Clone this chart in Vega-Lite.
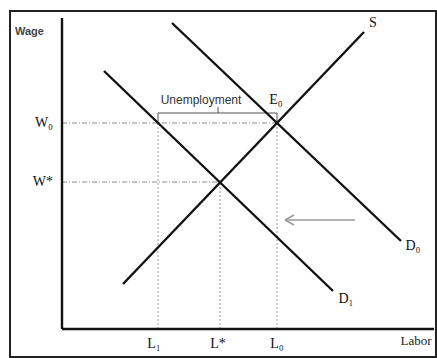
{
  "$schema": "https://vega.github.io/schema/vega-lite/v6.json",
  "width": 437,
  "height": 358,
  "padding": 0,
  "autosize": {"type": "none"},
  "background": "white",
  "config": {"view": {"stroke": null}},
  "datasets": {
    "segments": [
      {"part": "border", "style": "border", "x": -52, "y": -28, "x2": 374, "y2": 318},
      {"part": "y axis", "style": "solid", "x": 0, "y": 0, "x2": 0, "y2": 311},
      {"part": "x axis", "style": "solid", "x": 0, "y": 0, "x2": 372, "y2": 0},
      {"part": "S", "style": "solid", "x": 61, "y": 45, "x2": 302, "y2": 297},
      {"part": "D0", "style": "solid", "x": 110, "y": 306, "x2": 339, "y2": 88},
      {"part": "D1", "style": "solid", "x": 42, "y": 258, "x2": 271, "y2": 38},
      {"part": "bracket left", "style": "thin", "x": 96, "y": 206, "x2": 96, "y2": 216},
      {"part": "bracket top", "style": "thin", "x": 96, "y": 216, "x2": 215, "y2": 216},
      {"part": "bracket right", "style": "thin", "x": 215, "y": 216, "x2": 215, "y2": 206},
      {"part": "bracket tick", "style": "thin", "x": 156, "y": 216, "x2": 156, "y2": 222},
      {"part": "W0 guide", "style": "dashdot", "x": 0, "y": 206, "x2": 215, "y2": 206},
      {"part": "W* guide", "style": "dashdot", "x": 0, "y": 147, "x2": 158, "y2": 147},
      {"part": "L1 guide", "style": "dotted", "x": 96, "y": 0, "x2": 96, "y2": 206},
      {"part": "L* guide", "style": "dotted", "x": 158, "y": 0, "x2": 158, "y2": 147},
      {"part": "L0 guide", "style": "dotted", "x": 215, "y": 0, "x2": 215, "y2": 206},
      {"part": "arrow shaft", "style": "arrow", "x": 293, "y": 109, "x2": 223, "y2": 109},
      {"part": "arrow wing up", "style": "arrow", "x": 223, "y": 109, "x2": 232, "y2": 114},
      {"part": "arrow wing down", "style": "arrow", "x": 223, "y": 109, "x2": 232, "y2": 104}
    ],
    "labels": [
      {"text": "Wage", "font": "sans", "align": "left", "x": -47, "y": 297},
      {"text": "Unemployment", "font": "sans", "align": "center", "x": 139, "y": 229},
      {"text": "S", "font": "serif", "align": "center", "x": 311, "y": 306},
      {"text": "E₀", "font": "serif", "align": "center", "x": 214, "y": 229},
      {"text": "D₀", "font": "serif", "align": "center", "x": 351, "y": 83},
      {"text": "D₁", "font": "serif", "align": "center", "x": 284, "y": 30},
      {"text": "W₀", "font": "serif", "align": "right", "x": -9, "y": 206},
      {"text": "W*", "font": "serif", "align": "right", "x": -9, "y": 147},
      {"text": "L₁", "font": "serif", "align": "center", "x": 92, "y": -15},
      {"text": "L*", "font": "serif", "align": "center", "x": 156, "y": -15},
      {"text": "L₀", "font": "serif", "align": "center", "x": 215, "y": -15},
      {"text": "Labor", "font": "serifsmall", "align": "center", "x": 354, "y": -12}
    ]
  },
  "layer": [
    {
      "data": {"name": "segments"},
      "transform": [{"filter": "datum.style === 'border'"}],
      "mark": {"type": "rect", "fill": null, "stroke": "#222222", "strokeWidth": 2},
      "encoding": {
        "x": {"field": "x", "type": "quantitative", "scale": {"domain": [-62, 375], "nice": false, "zero": false}, "axis": null},
        "x2": {"field": "x2"},
        "y": {"field": "y", "type": "quantitative", "scale": {"domain": [-29, 329], "nice": false, "zero": false}, "axis": null},
        "y2": {"field": "y2"}
      }
    },
    {
      "data": {"name": "segments"},
      "transform": [{"filter": "datum.style === 'dashdot'"}],
      "mark": {"type": "rule", "stroke": "#8a8a8a", "strokeWidth": 1, "strokeDash": [5, 2, 1, 2]},
      "encoding": {
        "x": {"field": "x", "type": "quantitative"}, "x2": {"field": "x2"},
        "y": {"field": "y", "type": "quantitative"}, "y2": {"field": "y2"}
      }
    },
    {
      "data": {"name": "segments"},
      "transform": [{"filter": "datum.style === 'dotted'"}],
      "mark": {"type": "rule", "stroke": "#999999", "strokeWidth": 1, "strokeDash": [2, 2]},
      "encoding": {
        "x": {"field": "x", "type": "quantitative"}, "x2": {"field": "x2"},
        "y": {"field": "y", "type": "quantitative"}, "y2": {"field": "y2"}
      }
    },
    {
      "data": {"name": "segments"},
      "transform": [{"filter": "datum.style === 'thin'"}],
      "mark": {"type": "rule", "stroke": "#555555", "strokeWidth": 1},
      "encoding": {
        "x": {"field": "x", "type": "quantitative"}, "x2": {"field": "x2"},
        "y": {"field": "y", "type": "quantitative"}, "y2": {"field": "y2"}
      }
    },
    {
      "data": {"name": "segments"},
      "transform": [{"filter": "datum.style === 'arrow'"}],
      "mark": {"type": "rule", "stroke": "#9a9a9a", "strokeWidth": 1.5},
      "encoding": {
        "x": {"field": "x", "type": "quantitative"}, "x2": {"field": "x2"},
        "y": {"field": "y", "type": "quantitative"}, "y2": {"field": "y2"}
      }
    },
    {
      "data": {"name": "segments"},
      "transform": [{"filter": "datum.style === 'solid'"}],
      "mark": {"type": "rule", "stroke": "#111111", "strokeWidth": 2.4, "strokeCap": "butt"},
      "encoding": {
        "x": {"field": "x", "type": "quantitative"}, "x2": {"field": "x2"},
        "y": {"field": "y", "type": "quantitative"}, "y2": {"field": "y2"}
      }
    },
    {
      "data": {"name": "labels"},
      "transform": [{"filter": "datum.font === 'sans' && datum.align === 'left'"}],
      "mark": {"type": "text", "font": "Liberation Sans", "fontSize": 11, "fontWeight": "bold", "color": "#444444", "baseline": "middle", "align": "left"},
      "encoding": {
        "x": {"field": "x", "type": "quantitative"},
        "y": {"field": "y", "type": "quantitative"},
        "text": {"field": "text"}
      }
    },
    {
      "data": {"name": "labels"},
      "transform": [{"filter": "datum.font === 'sans' && datum.align === 'center'"}],
      "mark": {"type": "text", "font": "Liberation Sans", "fontSize": 12, "color": "#333333", "baseline": "middle", "align": "center"},
      "encoding": {
        "x": {"field": "x", "type": "quantitative"},
        "y": {"field": "y", "type": "quantitative"},
        "text": {"field": "text"}
      }
    },
    {
      "data": {"name": "labels"},
      "transform": [{"filter": "datum.font === 'serif' && datum.align === 'center'"}],
      "mark": {"type": "text", "font": "Liberation Serif", "fontSize": 14, "color": "#111111", "baseline": "middle", "align": "center"},
      "encoding": {
        "x": {"field": "x", "type": "quantitative"},
        "y": {"field": "y", "type": "quantitative"},
        "text": {"field": "text"}
      }
    },
    {
      "data": {"name": "labels"},
      "transform": [{"filter": "datum.font === 'serif' && datum.align === 'right'"}],
      "mark": {"type": "text", "font": "Liberation Serif", "fontSize": 14, "color": "#111111", "baseline": "middle", "align": "right"},
      "encoding": {
        "x": {"field": "x", "type": "quantitative"},
        "y": {"field": "y", "type": "quantitative"},
        "text": {"field": "text"}
      }
    },
    {
      "data": {"name": "labels"},
      "transform": [{"filter": "datum.font === 'serifsmall'"}],
      "mark": {"type": "text", "font": "Liberation Serif", "fontSize": 13, "color": "#222222", "baseline": "middle", "align": "center"},
      "encoding": {
        "x": {"field": "x", "type": "quantitative"},
        "y": {"field": "y", "type": "quantitative"},
        "text": {"field": "text"}
      }
    }
  ]
}
